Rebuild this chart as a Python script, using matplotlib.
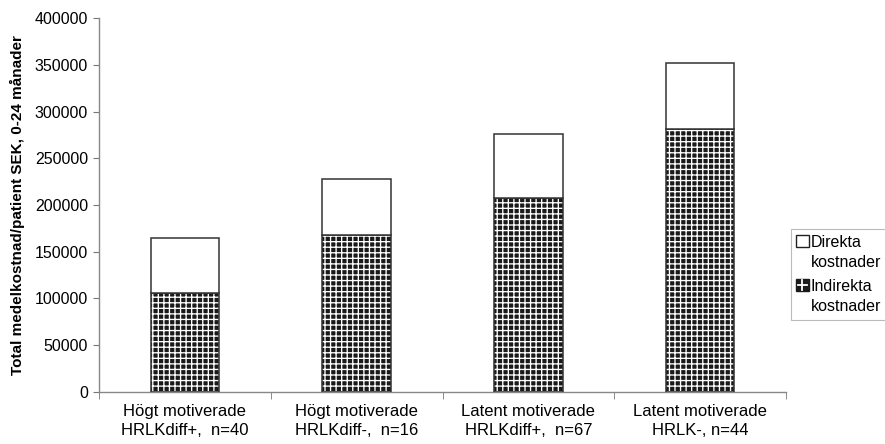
import matplotlib
matplotlib.use("Agg")
import matplotlib.pyplot as plt
import numpy as np
from matplotlib.patches import Patch, Rectangle
from matplotlib.lines import Line2D
from matplotlib.legend_handler import HandlerBase

plt.rcParams['font.family'] = ['Liberation Sans', 'DejaVu Sans']
plt.rcParams['hatch.linewidth'] = 0.95

categories = [
    "Högt motiverade\nHRLKdiff+,  n=40",
    "Högt motiverade\nHRLKdiff-,  n=16",
    "Latent motiverade\nHRLKdiff+,  n=67",
    "Latent motiverade\nHRLK-, n=44",
]
indirekta = [106000, 168000, 208000, 281000]
direkta = [59000, 60000, 68000, 71000]
yticks = [0, 50000, 100000, 150000, 200000, 250000, 300000, 350000, 400000]

fig = plt.figure(figsize=(8.85, 4.44), dpi=100)
ax = fig.add_axes([99 / 885, 52.3 / 444, 687 / 885, 373.4 / 444])

x = np.arange(len(categories))
width = 0.40
edge = "#333333"

# Indirect costs: dark fill with a white grid hatch, then an outline on top
ax.bar(x, indirekta, width, color="#1a1a1a", edgecolor="white", hatch="+++",
       linewidth=0, zorder=2)
ax.bar(x, indirekta, width, facecolor="none", edgecolor=edge, linewidth=1.1,
       zorder=3)
# Direct costs stacked above
ax.bar(x, direkta, width, bottom=indirekta, color="white", edgecolor=edge,
       linewidth=1.1, zorder=3)

ax.set_xlim(-0.5, len(categories) - 0.5)
ax.set_ylim(0, 400000)
ax.set_yticks(yticks)
ax.set_yticklabels([str(v) for v in yticks], fontsize=11.5)
ax.set_xticks(x)
ax.set_xticklabels(categories, fontsize=12, linespacing=1.3)
ax.tick_params(axis='x', which='major', length=0, pad=9)
ax.set_xticks(np.arange(len(categories) + 1) - 0.5, minor=True)
ax.tick_params(axis='x', which='minor', length=5, color="#777777", direction='out')
ax.tick_params(axis='y', length=4, color="#777777", direction='out', pad=4)

for side in ("top", "right"):
    ax.spines[side].set_visible(False)
for side in ("left", "bottom"):
    ax.spines[side].set_color("#888888")
    ax.spines[side].set_linewidth(1.0)

ax.set_ylabel("Total medelkostnad/patient SEK, 0-24 månader", fontsize=11,
              fontweight="bold", labelpad=7)


class SquareHandler(HandlerBase):
    def __init__(self, hatched):
        super().__init__()
        self.hatched = hatched

    def create_artists(self, legend, orig_handle, xdescent, ydescent, width,
                       height, fontsize, trans):
        s = 9
        x0 = width - s - 0.5
        y0 = height / 2 + 4
        if self.hatched:
            bg = Rectangle((x0, y0), s, s, facecolor="#1a1a1a", edgecolor="#1a1a1a",
                           linewidth=1.0, transform=trans)
            hl = Line2D([x0 + 1, x0 + s - 1], [y0 + s / 2, y0 + s / 2],
                        color="white", linewidth=1.3, transform=trans)
            vl = Line2D([x0 + s / 2, x0 + s / 2], [y0 + 1, y0 + s - 1],
                        color="white", linewidth=1.3, transform=trans)
            return [bg, hl, vl]
        fr = Rectangle((x0, y0), s, s, facecolor="white", edgecolor="#222222",
                       linewidth=1.0, transform=trans)
        return [fr]


h_dir = Patch(facecolor="white", edgecolor=edge)
h_ind = Patch(facecolor="#1a1a1a", edgecolor=edge)
leg = fig.legend([h_dir, h_ind], ["Direkta\nkostnader", "Indirekta\nkostnader"],
                 handler_map={h_dir: SquareHandler(False), h_ind: SquareHandler(True)},
                 loc="upper left", bbox_to_anchor=(791 / 885, 1 - 229 / 444),
                 fontsize=11.5, frameon=True, fancybox=False, handlelength=0.8,
                 handletextpad=0.1, borderpad=0.35, labelspacing=0.55,
                 borderaxespad=0)
for t in leg.get_texts():
    t.set_linespacing(1.45)
leg.get_frame().set_edgecolor("#aaaaaa")
leg.get_frame().set_linewidth(0.8)

fig.savefig("out.png", dpi=100)
